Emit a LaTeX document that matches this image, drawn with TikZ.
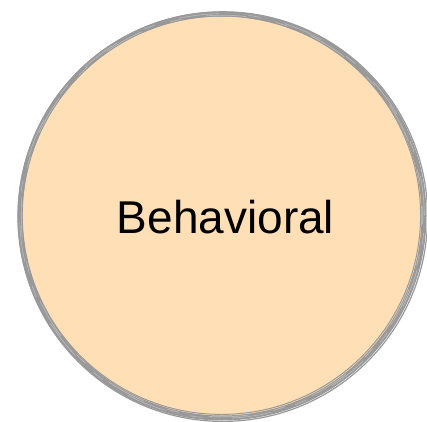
\documentclass[tikz,border=0pt]{standalone}
\usepackage{fontspec}
\setmainfont{Liberation Sans}
\usetikzlibrary{calc}
\definecolor{peach}{HTML}{FFDFB6}
\definecolor{rim}{HTML}{999999}
\definecolor{rimlight}{HTML}{BDBDBD}
\begin{document}
\begin{tikzpicture}[x=1pt,y=1pt,
  rimstroke/.style={draw=rim,line width=5pt},
  rimthin/.style={draw=rimlight,line width=0.6pt,dash pattern=on 40pt off 25pt on 12pt off 30pt}]
\useasboundingbox (0,0) rectangle (427,421);
\coordinate (c) at (222,205);
\fill[peach] (c) circle[radius=201];
\draw[rimstroke] (c) circle[radius=202];
\draw[draw=rim,line width=1.2pt] ($(c)+(0.8,-0.6)$) circle[radius=204.8];
\draw[draw=rim,line width=1pt] ($(c)+(-0.6,0.8)$) circle[radius=199.2];
\draw[rimthin] (c) circle[radius=202.3];
\draw[rimthin,dash phase=30pt] (c) circle[radius=200.8];
\node[font=\fontsize{46}{50}\selectfont,anchor=base,inner sep=0pt] (lbl) at (225.5,188) {Behavioral};
\end{tikzpicture}
\end{document}
